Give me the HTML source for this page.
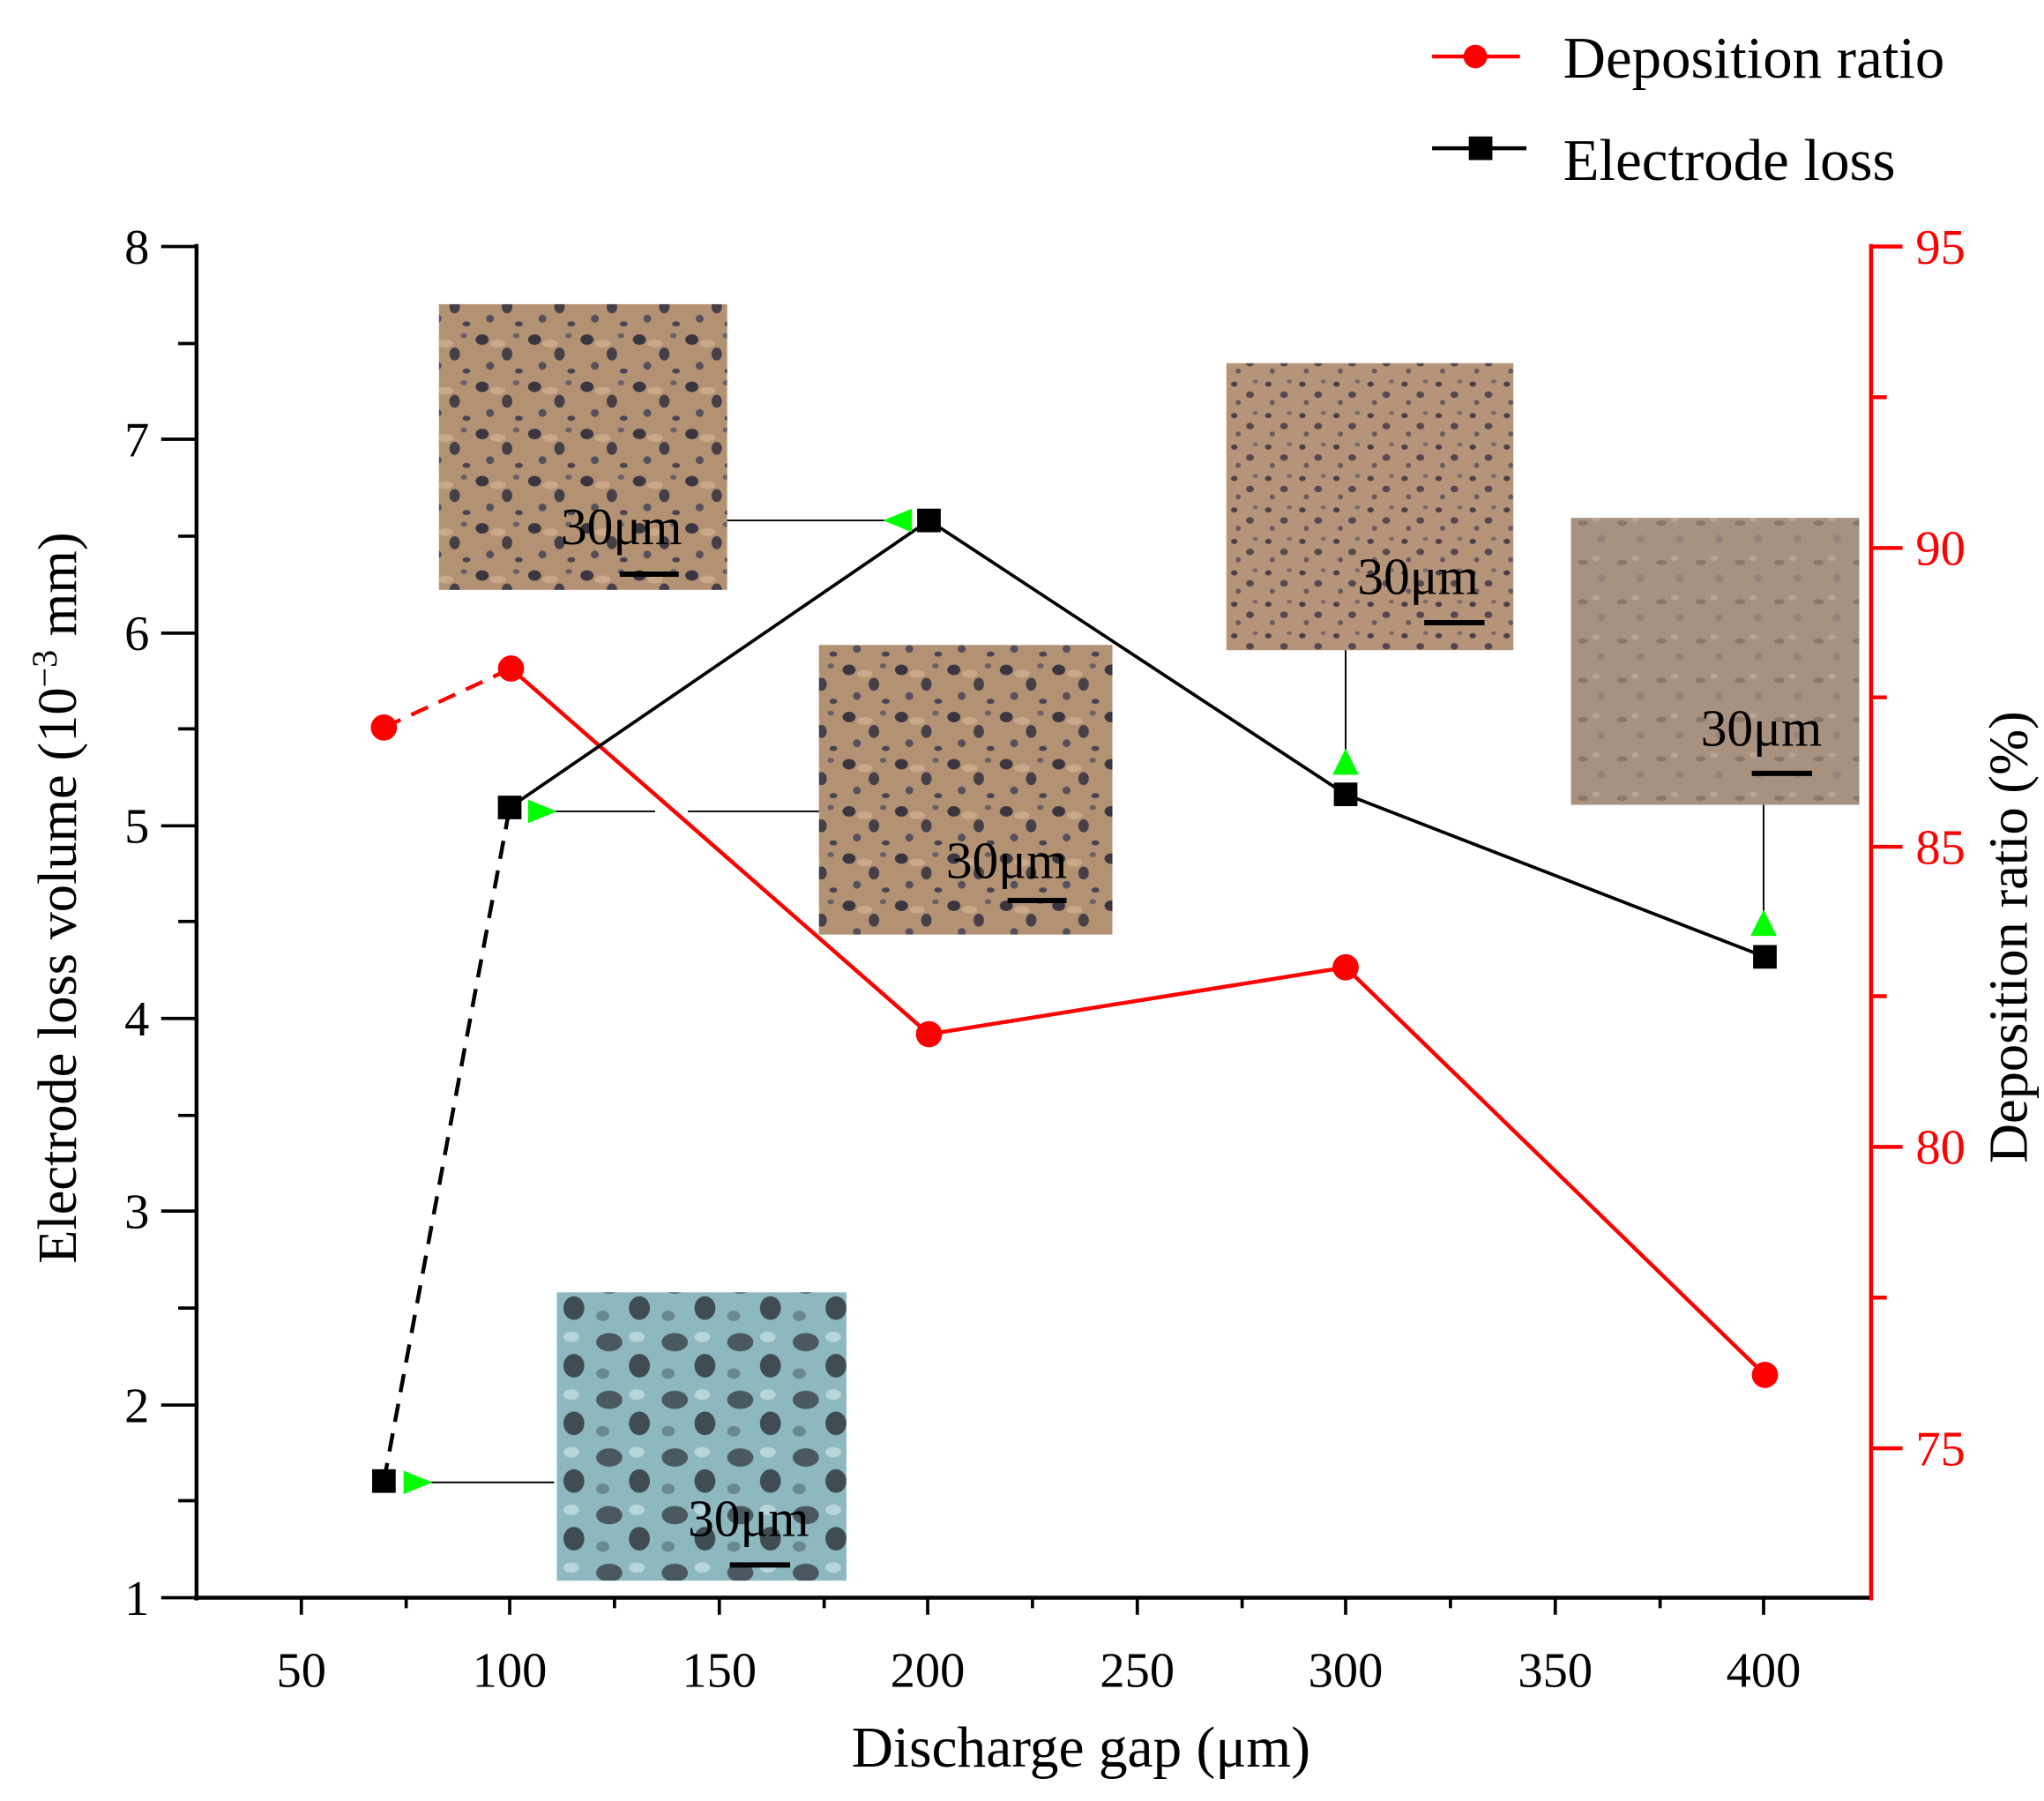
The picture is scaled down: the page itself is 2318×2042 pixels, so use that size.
<!DOCTYPE html>
<html><head><meta charset="utf-8"><style>
html,body{margin:0;padding:0;background:#fff}
svg{display:block}
text{font-family:"Liberation Serif",serif}
</style></head><body>
<svg width="2318" height="2042" viewBox="0 0 1560 1374" xmlns="http://www.w3.org/2000/svg">
<defs>
<pattern id="p1" width="40" height="36" patternUnits="userSpaceOnUse">
<rect width="40" height="36" fill="#b39274"/>
<ellipse cx="8" cy="7" rx="5" ry="4" fill="#3b3540"/>
<ellipse cx="27" cy="18" rx="4" ry="5" fill="#463f48"/>
<ellipse cx="14" cy="27" rx="3" ry="3" fill="#55505a"/>
<ellipse cx="34" cy="4" rx="2.5" ry="2" fill="#6a6068"/>
<ellipse cx="36" cy="31" rx="3" ry="2" fill="#4a4450"/>
<ellipse cx="20" cy="10" rx="6" ry="3" fill="#c9a98a"/>
</pattern>
<pattern id="p3" width="26" height="24" patternUnits="userSpaceOnUse">
<rect width="26" height="24" fill="#b69479"/>
<ellipse cx="6" cy="5" rx="2.5" ry="2" fill="#4b4048"/>
<ellipse cx="18" cy="13" rx="3" ry="2.5" fill="#554850"/>
<ellipse cx="9" cy="19" rx="2" ry="2" fill="#6a5a5e"/>
<ellipse cx="22" cy="3" rx="2" ry="1.5" fill="#7a6a68"/>
</pattern>
<pattern id="p4" width="30" height="30" patternUnits="userSpaceOnUse">
<rect width="30" height="30" fill="#a8917f"/>
<ellipse cx="8" cy="9" rx="4" ry="2" fill="#8b7768"/>
<ellipse cx="22" cy="21" rx="3" ry="3" fill="#95837a"/>
<ellipse cx="18" cy="6" rx="3" ry="2" fill="#b8a595"/>
</pattern>
<pattern id="p5" width="50" height="44" patternUnits="userSpaceOnUse">
<rect width="50" height="44" fill="#8db8c0"/>
<ellipse cx="15" cy="12" rx="10" ry="7" fill="#4a5960"/>
<ellipse cx="38" cy="30" rx="8" ry="9" fill="#3f4c52"/>
<ellipse cx="10" cy="36" rx="5" ry="4" fill="#6a8890"/>
<ellipse cx="36" cy="8" rx="6" ry="4" fill="#b7d6da"/>
</pattern>
</defs>

<line x1="1093" y1="43" x2="1160" y2="43" stroke="#f00" stroke-width="3"/>
<circle cx="1126" cy="43" r="9" fill="#f00"/>
<text x="1193" y="59" font-size="45">Deposition ratio</text>
<line x1="1093" y1="113" x2="1165" y2="113" stroke="#000" stroke-width="3"/>
<rect x="1121" y="104" width="18" height="18" fill="#000"/>
<text x="1193" y="137" font-size="45">Electrode loss</text>

<g stroke="#000" stroke-width="3">
<line x1="150" y1="186" x2="150" y2="1221"/>
<line x1="148" y1="1219" x2="1428" y2="1219"/>
</g>
<g stroke="#000" stroke-width="2.5">
<line x1="123" y1="188" x2="150" y2="188"/><line x1="123" y1="335" x2="150" y2="335"/>
<line x1="123" y1="483" x2="150" y2="483"/><line x1="123" y1="630" x2="150" y2="630"/>
<line x1="123" y1="777" x2="150" y2="777"/><line x1="123" y1="924" x2="150" y2="924"/>
<line x1="123" y1="1072" x2="150" y2="1072"/><line x1="123" y1="1219" x2="150" y2="1219"/>
<line x1="136" y1="262" x2="150" y2="262"/><line x1="136" y1="409" x2="150" y2="409"/>
<line x1="136" y1="556" x2="150" y2="556"/><line x1="136" y1="703" x2="150" y2="703"/>
<line x1="136" y1="851" x2="150" y2="851"/><line x1="136" y1="998" x2="150" y2="998"/>
<line x1="136" y1="1145" x2="150" y2="1145"/>
<line x1="230" y1="1219" x2="230" y2="1232"/><line x1="389" y1="1219" x2="389" y2="1232"/>
<line x1="549" y1="1219" x2="549" y2="1232"/><line x1="708" y1="1219" x2="708" y2="1232"/>
<line x1="868" y1="1219" x2="868" y2="1232"/><line x1="1027" y1="1219" x2="1027" y2="1232"/>
<line x1="1187" y1="1219" x2="1187" y2="1232"/><line x1="1346" y1="1219" x2="1346" y2="1232"/>
<line x1="310" y1="1219" x2="310" y2="1227"/><line x1="469" y1="1219" x2="469" y2="1227"/>
<line x1="629" y1="1219" x2="629" y2="1227"/><line x1="788" y1="1219" x2="788" y2="1227"/>
<line x1="948" y1="1219" x2="948" y2="1227"/><line x1="1107" y1="1219" x2="1107" y2="1227"/>
<line x1="1267" y1="1219" x2="1267" y2="1227"/>
</g>
<g font-size="38" text-anchor="end" fill="#000">
<text x="114" y="201">8</text><text x="114" y="348">7</text><text x="114" y="496">6</text>
<text x="114" y="643">5</text><text x="114" y="790">4</text><text x="114" y="937">3</text>
<text x="114" y="1085">2</text><text x="114" y="1232">1</text>
</g>
<g font-size="38" text-anchor="middle" fill="#000">
<text x="230" y="1287">50</text><text x="389" y="1287">100</text><text x="549" y="1287">150</text>
<text x="708" y="1287">200</text><text x="868" y="1287">250</text><text x="1027" y="1287">300</text>
<text x="1187" y="1287">350</text><text x="1346" y="1287">400</text>
</g>
<text x="825" y="1348" font-size="44" text-anchor="middle">Discharge gap (μm)</text>
<text transform="translate(58,685) rotate(-90)" font-size="42" text-anchor="middle">Electrode loss volume (10<tspan font-size="27" dy="-15">−3</tspan><tspan dy="15"> mm)</tspan></text>

<g stroke="#f00" stroke-width="3">
<line x1="1428" y1="186" x2="1428" y2="1221"/>
<line x1="1428" y1="188" x2="1452" y2="188"/><line x1="1428" y1="418" x2="1452" y2="418"/>
<line x1="1428" y1="646" x2="1452" y2="646"/><line x1="1428" y1="875" x2="1452" y2="875"/>
<line x1="1428" y1="1105" x2="1452" y2="1105"/>
<line x1="1428" y1="303" x2="1440" y2="303"/><line x1="1428" y1="532" x2="1440" y2="532"/>
<line x1="1428" y1="760" x2="1440" y2="760"/><line x1="1428" y1="990" x2="1440" y2="990"/>
</g>
<g font-size="38" fill="#f00">
<text x="1462" y="201">95</text><text x="1462" y="431">90</text><text x="1462" y="659">85</text>
<text x="1462" y="888">80</text><text x="1462" y="1118">75</text>
</g>
<text transform="translate(1547,715) rotate(-90)" font-size="42" text-anchor="middle">Deposition ratio (%)</text>

<rect x="335" y="232" width="220" height="218" fill="url(#p1)"/>
<rect x="625" y="492" width="224" height="221" fill="url(#p1)"/>
<rect x="936" y="277" width="219" height="219" fill="url(#p3)"/>
<rect x="1199" y="395" width="220" height="219" fill="url(#p4)"/>
<rect x="425" y="986" width="221" height="220" fill="url(#p5)"/>
<g font-size="40" fill="#000">
<text x="428" y="415">30μm</text><text x="722" y="670">30μm</text>
<text x="1036" y="453">30μm</text><text x="1298" y="569">30μm</text>
<text x="525" y="1172">30μm</text>
</g>
<g stroke="#000" stroke-width="4">
<line x1="473" y1="438" x2="518" y2="438"/><line x1="769" y1="687" x2="814" y2="687"/>
<line x1="1087" y1="475" x2="1133" y2="475"/><line x1="1337" y1="590" x2="1383" y2="590"/>
<line x1="557" y1="1194" x2="603" y2="1194"/>
</g>

<g stroke="#000" stroke-width="1.3">
<line x1="555" y1="397" x2="690" y2="397"/>
<line x1="625" y1="619" x2="525" y2="619"/><line x1="500" y1="619" x2="420" y2="619"/>
<line x1="1027" y1="496" x2="1027" y2="575"/>
<line x1="1346" y1="614" x2="1346" y2="700"/>
<line x1="423" y1="1131" x2="325" y2="1131"/>
</g>

<line x1="293" y1="555" x2="390" y2="510" stroke="#f00" stroke-width="3" stroke-dasharray="14,9"/>
<polyline points="390,510 709,789 1027,738 1347,1049" fill="none" stroke="#f00" stroke-width="3"/>
<g fill="#f00"><circle cx="293" cy="555" r="10"/><circle cx="390" cy="510" r="10"/><circle cx="709" cy="789" r="10"/><circle cx="1027" cy="738" r="10"/><circle cx="1347" cy="1049" r="10"/></g>

<line x1="293" y1="1130" x2="389" y2="616" stroke="#000" stroke-width="3" stroke-dasharray="14,9"/>
<polyline points="389,616 709,397 1027,606 1347,730" fill="none" stroke="#000" stroke-width="2.5"/>
<g fill="#000"><rect x="284" y="1121" width="18" height="18"/><rect x="380" y="607" width="18" height="18"/><rect x="700" y="388" width="18" height="18"/><rect x="1018" y="597" width="18" height="18"/><rect x="1338" y="721" width="18" height="18"/></g>

<g fill="#0f0">
<polygon points="674,397 696,388 696,406"/>
<polygon points="425,619 403,610 403,628"/>
<polygon points="1027,571 1017,591 1037,591"/>
<polygon points="1346,694 1336,714 1356,714"/>
<polygon points="330,1131 308,1122 308,1140"/>
</g>
</svg>
</body></html>
